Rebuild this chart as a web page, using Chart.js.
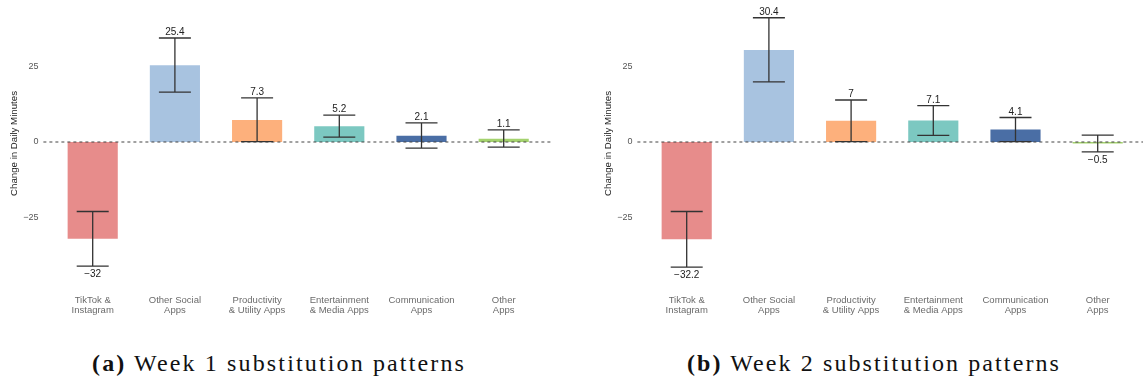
<!DOCTYPE html>
<html>
<head>
<meta charset="utf-8">
<script src="https://cdn.jsdelivr.net/npm/chart.js@4.4.1/dist/chart.umd.min.js"></script>
<style>
  html, body { margin: 0; padding: 0; background: #fff; }
  body { width: 1143px; height: 384px; position: relative; overflow: hidden; }
  .panel { position: absolute; top: 0; width: 560px; height: 330px; }
  .caption { position: absolute; top: 350px; white-space: nowrap;
    font-family: "Liberation Serif", "DejaVu Serif", serif; font-size: 24px; line-height: 26px; color: #111; }
  .caption b { font-weight: bold; }
</style>
</head>
<body>
<div class="panel" style="left:0px"><canvas id="week1"></canvas></div>
<div class="panel" style="left:594px"><canvas id="week2"></canvas></div>
<div class="caption" id="capA" style="left:92px"><b>(a)</b> Week 1 substitution patterns</div>
<div class="caption" id="capB" style="left:687px"><b>(b)</b> Week 2 substitution patterns</div>
<script>
const categories = [
  ['TikTok &', 'Instagram'],
  ['Other Social', 'Apps'],
  ['Productivity', '& Utility Apps'],
  ['Entertainment', '& Media Apps'],
  ['Communication', 'Apps'],
  ['Other', 'Apps']
];
const week1Values = [-32, 25.4, 7.3, 5.2, 2.1, 1.1];
const week1Lower = [-41.1, 16.5, 0.1, 1.6, -2.0, -1.7];
const week1Upper = [-23.0, 34.4, 14.6, 8.9, 6.3, 4.0];
const week2Values = [-32.2, 30.4, 7, 7.1, 4.1, -0.5];
const week2Lower = [-41.4, 19.9, 0.1, 2.2, 0.1, -3.3];
const week2Upper = [-23.0, 41.1, 13.9, 12.0, 8.1, 2.3];
const yTicks = [-25, 0, 25];
const yMin = -45, yMax = 44;
const barColors = ['#e78c8b', '#a8c3e0', '#fdb07c', '#7cc8c1', '#4a6ea5', '#a4d26e'];

function fmt(v) { return v < 0 ? '\u2212' + Math.abs(v) : String(v); }

// stretch the captions to the width of the LaTeX captions
['capA', 'capB'].forEach(id => {
  const el = document.getElementById(id);
  const w = el.getBoundingClientRect().width;
  const n = el.textContent.length;
  el.style.letterSpacing = ((374 - w) / n) + 'px';
});

const errorBars = {
  id: 'errorBars',
  afterDatasetsDraw(chart) {
    const { ctx, chartArea } = chart;
    const x = chart.scales.x, y = chart.scales.y;
    const step = chartArea.width / categories.length;
    const vals = chart.options.plugins.errorBars;
    // dashed zero line
    ctx.save();
    ctx.strokeStyle = '#444';
    ctx.lineWidth = 1.1;
    ctx.setLineDash([3, 3]);
    ctx.beginPath();
    const y0 = y.getPixelForValue(0);
    ctx.moveTo(chartArea.left - step * 0.1, y0);
    ctx.lineTo(chartArea.right + step * 0.1, y0);
    ctx.stroke();
    ctx.setLineDash([]);
    ctx.strokeStyle = '#333';
    ctx.lineWidth = 1.3;
    ctx.fillStyle = '#222';
    ctx.font = '10px "Liberation Sans", Arial, sans-serif';
    ctx.textAlign = 'center';
    vals.values.forEach((v, i) => {
      const cx = x.getPixelForValue(i);
      const lo = y.getPixelForValue(vals.lower[i]);
      const hi = y.getPixelForValue(vals.upper[i]);
      ctx.beginPath();
      ctx.moveTo(cx, lo); ctx.lineTo(cx, hi);
      ctx.moveTo(cx - 16, lo); ctx.lineTo(cx + 16, lo);
      ctx.moveTo(cx - 16, hi); ctx.lineTo(cx + 16, hi);
      ctx.stroke();
      if (v >= 0) {
        ctx.textBaseline = 'bottom';
        ctx.fillText(fmt(v), cx, hi - 0.5);
      } else {
        ctx.textBaseline = 'top';
        ctx.fillText(fmt(v), cx, lo + 3);
      }
    });
    ctx.restore();
  }
};

function makeChart(id, values, lower, upper) {
  return new Chart(document.getElementById(id), {
    type: 'bar',
    data: {
      labels: categories,
      datasets: [{
        data: values,
        backgroundColor: barColors,
        borderWidth: 0,
        categoryPercentage: 1,
        barPercentage: 0.61
      }]
    },
    options: {
      responsive: true,
      maintainAspectRatio: false,
      devicePixelRatio: 1,
      animation: false,
      layout: { padding: { top: 9, right: 15.2, bottom: 0, left: 0 } },
      plugins: {
        legend: { display: false },
        tooltip: { enabled: false },
        errorBars: { values: values, lower: lower, upper: upper }
      },
      scales: {
        x: {
          grid: { display: false, drawTicks: false },
          border: { display: false },
          ticks: {
            padding: 17,
            color: '#6b6b6b',
            font: { family: '"Liberation Sans", Arial, sans-serif', size: 9.5, lineHeight: 1.05 },
            maxRotation: 0,
            autoSkip: false
          },
          afterFit(scale) { scale.height = 52; }
        },
        y: {
          min: yMin,
          max: yMax,
          bounds: 'data',
          grid: { display: false, drawTicks: false },
          border: { display: false },
          afterBuildTicks(scale) {
            scale.ticks = yTicks.map(v => ({ value: v }));
            scale.min = yMin;
            scale.max = yMax;
          },
          afterFit(scale) {
            scale.width = 51.6;
            scale.paddingTop = 0;
            scale.paddingBottom = 0;
          },
          ticks: {
            padding: 13,
            color: '#555',
            font: { family: '"Liberation Sans", Arial, sans-serif', size: 9 },
            callback: v => fmt(v)
          },
          title: {
            display: true,
            text: 'Change in Daily Minutes',
            color: '#222',
            padding: { top: 8.4, bottom: 0 },
            font: { family: '"Liberation Sans", Arial, sans-serif', size: 9.7 }
          }
        }
      }
    },
    plugins: [errorBars]
  });
}

makeChart('week1', week1Values, week1Lower, week1Upper);
makeChart('week2', week2Values, week2Lower, week2Upper);
</script>
</body>
</html>
